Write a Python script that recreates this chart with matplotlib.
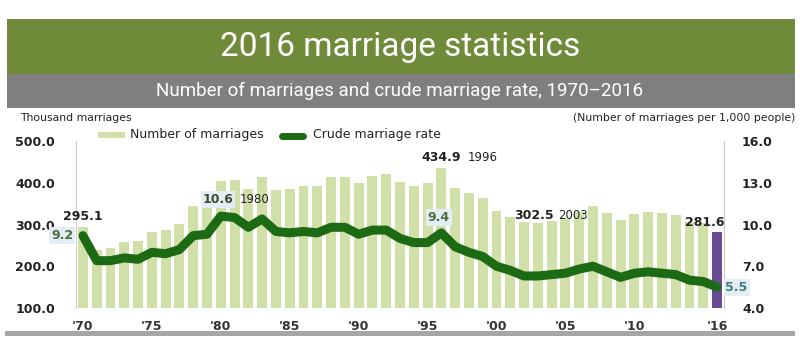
import matplotlib
matplotlib.use('Agg')
import matplotlib.pyplot as plt
from matplotlib.patches import Rectangle
from matplotlib.lines import Line2D

years = list(range(1970, 2017))
marriages = [295.1, 239.5, 244.8, 259.1, 259.6, 283.2, 285.8, 301.5, 343.4, 352.9,
             403.0, 406.0, 386.1, 414.4, 382.6, 384.7, 391.8, 392.5, 412.8, 414.1,
             399.3, 416.9, 419.8, 402.6, 393.1, 398.5, 434.9, 388.6, 375.6, 362.7,
             332.1, 318.4, 304.9, 302.5, 308.6, 314.3, 330.6, 343.6, 327.7, 309.8,
             326.1, 329.1, 327.1, 322.8, 305.5, 302.8, 281.6]
rate = [9.2, 7.4, 7.4, 7.6, 7.5, 8.0, 7.9, 8.2, 9.2, 9.3,
        10.6, 10.5, 9.8, 10.4, 9.5, 9.4, 9.5, 9.4, 9.8, 9.8,
        9.3, 9.6, 9.6, 9.0, 8.7, 8.7, 9.4, 8.4, 8.0, 7.7,
        7.0, 6.7, 6.3, 6.3, 6.4, 6.5, 6.8, 7.0, 6.6, 6.2,
        6.5, 6.6, 6.5, 6.4, 6.0, 5.9, 5.5]
xtick_years = [1970, 1975, 1980, 1985, 1990, 1995, 2000, 2005, 2010, 2016]
xtick_labels = ["'70", "'75", "'80", "'85", "'90", "'95", "'00", "'05", "'10", "'16"]
left_ticks = [100, 200, 300, 400, 500]
right_ticks = [4, 7, 10, 13, 16]

W, H = 800, 337
BAR = '#d1e0a9'
LAST = '#6a4c94'
LINE = '#1d6a14'
BOX = '#e3edf3'


def fx(x):
    return x / W


def fy(y):
    return 1 - y / H


fig = plt.figure(figsize=(8, 3.37), dpi=100)
fig.patch.set_facecolor('white')

# banners
fig.patches.append(Rectangle((fx(7), fy(74)), fx(788), 55 / H, transform=fig.transFigure,
                             facecolor='#6f8b3a', edgecolor='none', zorder=0))
fig.patches.append(Rectangle((fx(7), fy(108)), fx(788), 34 / H, transform=fig.transFigure,
                             facecolor='#7f7f7f', edgecolor='none', zorder=0))
fig.patches.append(Rectangle((fx(5), fy(336)), fx(790), 5 / H, transform=fig.transFigure,
                             facecolor='#a6a6a6', edgecolor='none', zorder=0))
fig.text(0.5, fy(47), '2016 marriage statistics', color='white', fontsize=24,
         fontfamily='Roboto', ha='center', va='center', zorder=5)
fig.text(0.5, fy(91), 'Number of marriages and crude marriage rate, 1970\u20132016', color='white',
         fontsize=13.5, fontfamily='Roboto', ha='center', va='center', zorder=5)

fig.text(fx(20), fy(118), 'Thousand marriages', fontsize=7.8, color='#222222', va='center')
fig.text(fx(795), fy(118), '(Number of marriages per 1,000 people)', fontsize=7.8,
         color='#222222', va='center', ha='right')

ax = fig.add_axes([fx(76), fy(308), fx(648), 167 / H])
colors = [BAR] * (len(years) - 1) + [LAST]
ax.bar(years, [m - 100 for m in marriages], bottom=100, width=0.72, color=colors, zorder=1)
ax.set_xlim(1969.5, 2016.5)
ax.set_ylim(100, 500)
ax.set_yticks(left_ticks)
ax.set_yticklabels([f'{v:.1f}' for v in left_ticks])
ax.set_xticks(xtick_years)
ax.set_xticklabels(xtick_labels)
for s in ['top', 'bottom']:
    ax.spines[s].set_visible(False)
ax.spines['left'].set_color('#cccccc')
ax.spines['right'].set_color('#cccccc')
ax.tick_params(axis='y', length=0, pad=15, labelsize=9, labelcolor='#222222')
ax.tick_params(axis='x', length=0, pad=9, labelsize=9, labelcolor='#333333')
for t in ax.get_xticklabels() + ax.get_yticklabels():
    t.set_fontweight('bold')

ax2 = ax.twinx()
ax2.plot(years, rate, color=LINE, lw=6.5, solid_joinstyle='round', solid_capstyle='round', zorder=3)
ax2.set_ylim(4, 16)
ax2.set_yticks(right_ticks)
ax2.set_yticklabels([f'{v:.1f}' for v in right_ticks])
for s in ['top', 'bottom', 'left']:
    ax2.spines[s].set_visible(False)
ax2.spines['right'].set_color('#cccccc')
ax2.tick_params(axis='y', length=0, pad=13, labelsize=9, labelcolor='#222222')
for t in ax2.get_yticklabels():
    t.set_fontweight('bold')

# value labels
bold = dict(fontsize=9, fontweight='bold', color='#222222')
box = dict(boxstyle='square,pad=0.15', facecolor=BOX, edgecolor='none')
ax.text(1970, marriages[0] + 23, f'{marriages[0]:.1f}', ha='center', va='center', **bold)
ax2.text(1969.3, rate[0], f'{rate[0]:.1f}', ha='right', va='center', fontsize=9,
         fontweight='bold', color='#4f6e3f', bbox=box, clip_on=False)
ax2.text(1979.8, rate[10] + 1.2, f'{rate[10]:.1f}', ha='center', va='center', fontsize=9,
         fontweight='bold', color='#3d4d2d', bbox=box)
ax2.text(1981.4, rate[10] + 1.2, '1980', ha='left', va='center', fontsize=8.5, color='#222222')
ax.text(1996, marriages[26] + 25, f'{marriages[26]:.1f}', ha='center', va='center', **bold)
ax.text(1997.9, marriages[26] + 25, '1996', ha='left', va='center', fontsize=8.5, color='#222222')
ax2.text(1995.8, rate[26] + 1.1, f'{rate[26]:.1f}', ha='center', va='center', fontsize=9,
         fontweight='bold', color='#4f6e3f', bbox=box)
ax.text(2002.7, marriages[33] + 18, f'{marriages[33]:.1f}', ha='center', va='center', **bold)
ax.text(2004.5, marriages[33] + 18, '2003', ha='left', va='center', fontsize=8.5, color='#222222')
ax.text(2015.1, marriages[46] + 24, f'{marriages[46]:.1f}', ha='center', va='center', **bold)
ax2.text(2016.6, rate[46], f'{rate[46]:.1f}', ha='left', va='center', fontsize=9,
         fontweight='bold', color='#3f7f80', bbox=box, clip_on=False)

# legend
fig.patches.append(Rectangle((fx(98), fy(138)), fx(27), 6 / H, transform=fig.transFigure,
                             facecolor=BAR, edgecolor='none'))
fig.text(fx(130), fy(135), 'Number of marriages', fontsize=9, color='#222222', va='center')
fig.lines.append(Line2D([fx(282), fx(303)], [fy(136), fy(136)], transform=fig.transFigure,
                        color=LINE, lw=5, solid_capstyle='round'))
fig.text(fx(313), fy(135), 'Crude marriage rate', fontsize=9, color='#222222', va='center')

fig.savefig('out.png', dpi=100)
